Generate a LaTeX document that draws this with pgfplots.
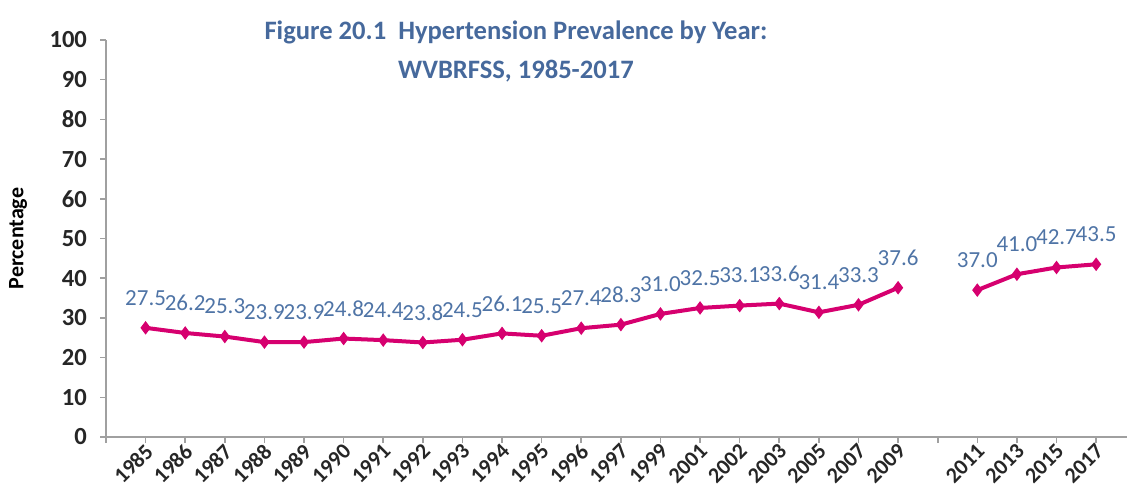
\documentclass[border=0pt]{standalone}
\usepackage{fontspec}
\setmainfont{Carlito}
\usepackage{pgfplots}
\usepackage{pgfplotstable}
\pgfplotsset{compat=1.18}
\definecolor{linec}{HTML}{D6006F}
\definecolor{labc}{HTML}{4F74A6}
\definecolor{titc}{HTML}{46699C}
\definecolor{axc}{HTML}{A0A0A0}

\pgfplotstableread{
x y
0 27.5
1 26.2
2 25.3
3 23.9
4 23.9
5 24.8
6 24.4
7 23.8
8 24.5
9 26.1
10 25.5
11 27.4
12 28.3
13 31.0
14 32.5
15 33.1
16 33.6
17 31.4
18 33.3
19 37.6
20 nan
21 37.0
22 41.0
23 42.7
24 43.5
}\datatable

\begin{document}
\begin{tikzpicture}
\useasboundingbox (0,0) rectangle (563.5pt,249pt);
\begin{axis}[
  at={(53pt,30.5pt)}, anchor=south west,
  scale only axis, width=510.5pt, height=198.5pt,
  xmin=-1, xmax=24.78, ymin=0, ymax=100,
  axis lines=left,
  axis line style={axc, line width=1pt, -},
  clip=false,
  ytick={0,10,...,100},
  xtick={-1,0,...,24},
  xticklabels={{},1985,1986,1987,1988,1989,1990,1991,1992,1993,1994,1995,1996,1997,1999,2001,2002,2003,2005,2007,2009,{},2011,2013,2015,2017},
  tick align=outside,
  major tick length=3pt,
  tick style={axc, line width=0.8pt},
  /pgf/number format/assume math mode=true,
  yticklabel style={font=\fontsize{12.3}{14}\selectfont\bfseries, text=black!85, xshift=-3pt},
  xticklabel style={font=\fontsize{11}{12}\selectfont\bfseries, text=black!85, rotate=45, anchor=east, xshift=3pt, yshift=-3pt},
  ylabel={\bfseries Percentage},
  ylabel style={font=\fontsize{11}{12}\selectfont, at={(rel axis cs:0,0.5)}, anchor=center, yshift=44pt},
  unbounded coords=jump,
  nodes near coords={\pgfmathprintnumber[fixed,fixed zerofill,precision=1]{\pgfplotspointmeta}},
  every node near coord/.append style={font=\fontsize{11.5}{12}\selectfont, text=labc, anchor=center, yshift=15pt},
]
\addplot[color=linec, line width=2pt, mark=diamond*, mark size=3pt, mark options={fill=linec, draw=linec, line width=0.5pt}] table[x=x, y=y] {\datatable};
\end{axis}
\node[font=\fontsize{13.3}{19.5}\selectfont\bfseries, text=titc, align=center, anchor=center] at (258pt,223.5pt) {Figure 20.1\ \ Hypertension Prevalence by Year:\\WVBRFSS, 1985-2017};
\end{tikzpicture}
\end{document}
